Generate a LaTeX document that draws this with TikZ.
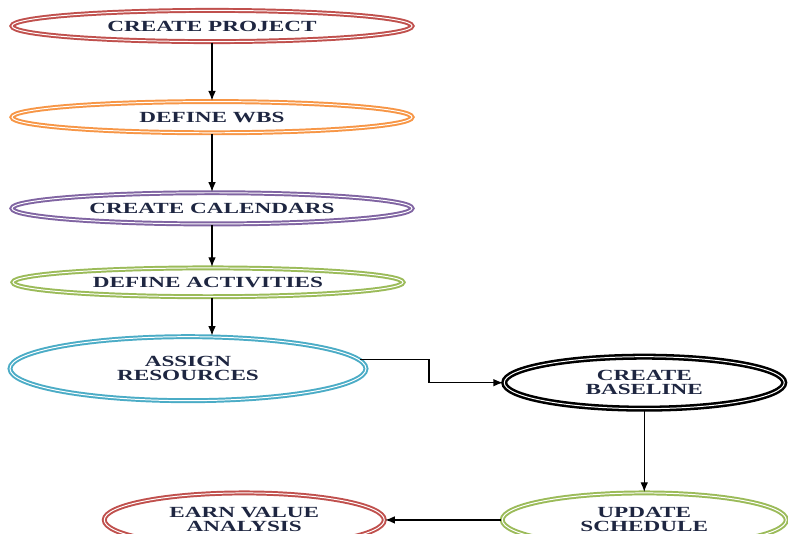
\documentclass[tikz,border=0pt]{standalone}
\usepackage{fontspec}
\newfontfamily\flowfont[FakeStretch=1.5,
   BoldFont={Liberation Serif Bold},
   BoldFeatures={FakeStretch=1.5}]{Liberation Serif}
\usepackage{xcolor}
\definecolor{projred}{RGB}{192,80,77}
\definecolor{wbsorange}{RGB}{247,150,70}
\definecolor{calpurple}{RGB}{128,100,162}
\definecolor{actgreen}{RGB}{155,187,89}
\definecolor{resblue}{RGB}{75,172,198}
\definecolor{labelnavy}{RGB}{30,38,65}
\usetikzlibrary{
    arrows.meta,
    positioning,
    shapes.geometric
}
\tikzset{
    stage/.style   = {ellipse, draw=#1, line width=1.4pt, double=white,
                      double distance=0.7pt, fill=white, align=center,
                      inner sep=1pt, text=labelnavy,
                      font=\flowfont\bfseries\fontsize{11}{10}\selectfont},
    wide/.style    = {minimum width=10cm, minimum height=0.78cm},
    flowArrow/.style = {-{Latex[length=2.4mm,width=1.9mm]}, line width=0.9pt}
}

\begin{document}
\begin{tikzpicture}[node distance = 1.45cm]
\useasboundingbox (0,0) rectangle (19.7,-13.325);
\node[stage=projred, wide] (p1) at (5.3,-0.65) {CREATE PROJECT};
\node[stage=wbsorange, wide, below=of p1] (p2) {DEFINE WBS};
\node[stage=calpurple, wide, below=of p2] (p3) {CREATE CALENDARS};
\node[stage=actgreen, minimum width=9.75cm, minimum height=0.72cm,
      below=1.05cm of p3, xshift=-0.1cm] (p4) {DEFINE ACTIVITIES};
\node[stage=resblue, minimum width=8.9cm, minimum height=1.6cm,
      below=0.95cm of p4, xshift=-0.5cm] (p5) {ASSIGN\\RESOURCES};
\node[stage=black, line width=1.8pt, minimum width=7cm, minimum height=1.3cm,
      right=3.4cm of p5, yshift=-0.35cm] (p6) {CREATE\\BASELINE};
\node[stage=actgreen, minimum width=7.1cm, minimum height=1.35cm,
      below=2.05cm of p6] (p7) {UPDATE\\SCHEDULE};
\node[stage=projred, minimum width=7cm, minimum height=1.35cm,
      left=2.9cm of p7] (p8) {EARN VALUE\\ANALYSIS};
\coordinate (bend) at ([xshift=1.55cm]p5.east);
% main column
\foreach \a/\b in {p1/p2,p2/p3,p3/p4}
   \draw[flowArrow] (\a.south -| p1) -- (\b.north -| p1);
\draw[flowArrow] (p4.south -| p1) -- (p5.north -| p1);
% baseline branch
\draw[flowArrow] (p5.3) -| (bend) |- (p6.west);
\draw[flowArrow] (p6.south) -- (p7.north);
\draw[flowArrow] (p7.west) -- (p8.east);
\end{tikzpicture}
\end{document}
